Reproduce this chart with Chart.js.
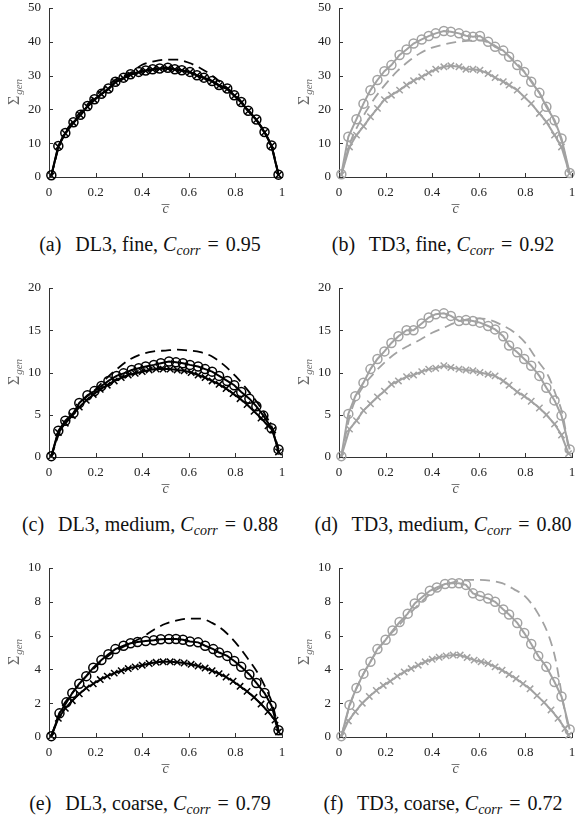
<!DOCTYPE html>
<html>
<head>
<meta charset="utf-8">
<script src="https://cdn.jsdelivr.net/npm/chart.js@4.4.1/dist/chart.umd.min.js"></script>
<style>
  body { margin: 0; width: 576px; height: 821px; overflow: hidden; background: #fff; position: relative; font-family: "Liberation Serif", "Times New Roman", "DejaVu Serif", serif; }
  .panel { position: absolute; width: 288px; height: 225px; }
  .cap { position: absolute; width: 300px; text-align: center; font-size: 20px; line-height: 24px; color: #111; white-space: nowrap; }
  .cap .lab { margin-right: 9px; }
  .cap .eq { margin: 0 2px; }
  .cap sub { font-size: 0.7em; vertical-align: -0.3em; line-height: 0; }
</style>
</head>
<body>

<div class="panel" style="left:0px;top:0px"><canvas id="pa" width="288" height="225"></canvas></div>
<div class="panel" style="left:290px;top:0px"><canvas id="pb" width="288" height="225"></canvas></div>
<div class="panel" style="left:0px;top:280px"><canvas id="pc" width="288" height="225"></canvas></div>
<div class="panel" style="left:290px;top:280px"><canvas id="pd" width="288" height="225"></canvas></div>
<div class="panel" style="left:0px;top:560px"><canvas id="pe" width="288" height="225"></canvas></div>
<div class="panel" style="left:290px;top:560px"><canvas id="pf" width="288" height="225"></canvas></div>

<div class="cap" style="left:0px;top:232px"><span class="lab">(a)</span> DL3, fine, <i>C<sub>corr</sub></i> <span class="eq">=</span> 0.95</div>
<div class="cap" style="left:293px;top:232px"><span class="lab">(b)</span> TD3, fine, <i>C<sub>corr</sub></i> <span class="eq">=</span> 0.92</div>
<div class="cap" style="left:0px;top:512px"><span class="lab">(c)</span> DL3, medium, <i>C<sub>corr</sub></i> <span class="eq">=</span> 0.88</div>
<div class="cap" style="left:293px;top:512px"><span class="lab">(d)</span> TD3, medium, <i>C<sub>corr</sub></i> <span class="eq">=</span> 0.80</div>
<div class="cap" style="left:0px;top:791px"><span class="lab">(e)</span> DL3, coarse, <i>C<sub>corr</sub></i> <span class="eq">=</span> 0.79</div>
<div class="cap" style="left:293px;top:791px"><span class="lab">(f)</span> TD3, coarse, <i>C<sub>corr</sub></i> <span class="eq">=</span> 0.72</div>

<script>
// x grid shared by the dashed reference curves
const dashX = [0.01, 0.05, 0.1, 0.15, 0.2, 0.25, 0.3, 0.35, 0.4, 0.45, 0.5, 0.55, 0.6, 0.65, 0.7, 0.75, 0.8, 0.85, 0.9, 0.93, 0.96, 0.985];

// (a) DL3 fine
const aX = [0.01,0.04,0.07,0.105,0.135,0.165,0.195,0.225,0.255,0.285,0.32,0.35,0.385,0.415,0.445,0.475,0.51,0.54,0.57,0.605,0.635,0.665,0.7,0.73,0.765,0.795,0.825,0.855,0.89,0.925,0.955,0.985];
const aCircY = [0.5,9.2,13,16.2,18.4,21,23,24.6,26.2,28.2,29.4,30.4,31.1,31.5,31.9,32.1,32.3,31.9,31.6,31.1,30.1,29.4,28.4,27.2,26.2,24.2,22.2,19.6,17,13.3,9.3,0.7];
const aCrossY = [0.4,9.0,12.9,16.0,18.3,20.8,22.8,24.5,26.0,28.0,29.2,30.2,31.0,31.4,31.8,32.0,32.1,31.8,31.5,31.0,30.0,29.3,28.3,27.0,26.0,24.0,22.0,19.5,16.9,13.2,9.2,0.6];
const aDashY = [0.5,10.5,16.3,20.3,24,27,29.4,30.8,33.2,34.2,34.7,34.7,33.8,32.2,30.0,27.2,24.2,20.3,16,12.8,8,0.8];

// (b) TD3 fine
const bCircX = [0.01,0.04,0.075,0.105,0.135,0.165,0.195,0.225,0.26,0.29,0.32,0.355,0.385,0.415,0.45,0.48,0.515,0.545,0.575,0.605,0.64,0.67,0.705,0.73,0.765,0.795,0.825,0.86,0.89,0.925,0.955,0.99];
const bCircY = [0.8,11.9,17.1,21.7,25.7,28.7,31.3,33.1,36.1,37.7,39.5,40.7,41.7,42.5,43.2,43.0,42.5,41.8,41.5,41.7,40.0,38.5,37.4,35.6,33.1,31.1,28.2,24.9,20.8,16.8,11.4,1.2];
const bCrossX = [0.01,0.045,0.075,0.105,0.135,0.165,0.195,0.225,0.26,0.29,0.32,0.355,0.385,0.415,0.45,0.48,0.515,0.545,0.575,0.605,0.64,0.67,0.705,0.73,0.765,0.795,0.825,0.86,0.89,0.925,0.955,0.99];
const bCrossY = [0.6,8.9,12.4,15.0,17.8,20.3,22.9,24.2,25.7,27.2,28.5,29.6,30.8,31.9,32.6,32.9,32.6,31.9,31.9,31.6,30.6,29.4,28.2,27.2,25.7,23.7,21.7,18.8,16.3,12.4,8.9,1.0];
const bDashY = [0.8,10.5,17.5,23,27.5,31.3,34.3,36.7,38.3,39.2,39.9,40.3,40.4,39.6,37.4,34.5,30.8,26,20,15.5,9.5,1.5];

// (c) DL3 medium
const cCircX = [0.01,0.04,0.07,0.105,0.13,0.165,0.195,0.225,0.255,0.29,0.32,0.355,0.385,0.415,0.45,0.48,0.515,0.545,0.575,0.605,0.64,0.67,0.7,0.73,0.765,0.795,0.825,0.86,0.89,0.92,0.955,0.985];
const cCircY = [0.1,3.1,4.3,5.2,6.4,7.3,7.8,8.4,9.0,9.6,9.9,10.3,10.5,10.7,10.9,11.1,11.3,11.2,11.1,10.9,10.7,10.4,10.1,9.6,9.0,8.5,7.7,6.9,6.0,4.9,3.4,0.9];
const cCrossX = [0.01,0.04,0.07,0.1,0.13,0.16,0.19,0.22,0.25,0.28,0.31,0.34,0.37,0.4,0.43,0.46,0.49,0.52,0.55,0.58,0.61,0.64,0.67,0.7,0.73,0.76,0.79,0.82,0.85,0.88,0.91,0.94,0.96,0.985];
const cCrossY = [0.1,2.9,4.0,4.9,5.9,6.7,7.4,8.0,8.5,9.0,9.4,9.7,9.9,10.1,10.3,10.4,10.4,10.4,10.3,10.2,10.0,9.7,9.4,9.0,8.6,8.1,7.5,6.9,6.2,5.4,4.6,3.7,3.2,0.6];
const cDashY = [0.1,3.2,5.0,6.8,8.0,9.4,10.6,11.6,12.2,12.5,12.6,12.7,12.6,12.4,11.9,10.9,9.6,8.0,6.2,4.9,3.3,0.9];

// (d) TD3 medium
const dCircX = [0.01,0.04,0.07,0.105,0.135,0.165,0.195,0.225,0.255,0.29,0.32,0.355,0.385,0.415,0.45,0.48,0.515,0.545,0.575,0.605,0.64,0.67,0.705,0.73,0.765,0.795,0.825,0.86,0.89,0.925,0.955,0.99];
const dCircY = [0.1,5.1,7.2,8.8,10.4,11.6,12.5,13.5,14.3,15.0,15.0,15.8,16.5,16.9,17.0,16.7,16.1,16.2,16.1,15.9,15.5,15.1,14.3,13.2,12.4,11.6,10.8,9.6,8.2,6.7,4.9,0.9];
const dCrossX = [0.01,0.045,0.075,0.105,0.135,0.165,0.195,0.225,0.255,0.29,0.32,0.355,0.385,0.415,0.45,0.48,0.515,0.545,0.575,0.605,0.64,0.67,0.705,0.73,0.765,0.795,0.825,0.86,0.89,0.925,0.955,0.985];
const dCrossY = [0.1,3.3,4.3,5.5,6.3,7.1,7.8,8.6,9.0,9.5,9.7,10.1,10.4,10.5,10.8,10.6,10.4,10.3,10.2,10.0,9.8,9.6,9.0,8.5,7.7,7.2,6.6,5.8,5.0,3.9,2.6,0.4];
const dDashY = [0.1,5.2,8.2,9.9,11.3,12.4,13.2,13.9,14.7,15.3,15.9,16.3,16.4,16.2,15.6,14.8,13.5,11.5,9.5,7.4,5.0,1.0];

// (e) DL3 coarse
const eCircX = [0.01,0.045,0.075,0.1,0.13,0.16,0.19,0.225,0.255,0.285,0.32,0.35,0.38,0.415,0.45,0.48,0.515,0.545,0.575,0.605,0.64,0.67,0.705,0.73,0.765,0.795,0.825,0.86,0.89,0.925,0.955,0.985];
const eCircY = [0.05,1.4,2.05,2.6,3.15,3.6,4.1,4.55,4.9,5.2,5.4,5.55,5.62,5.68,5.72,5.78,5.8,5.8,5.75,5.65,5.6,5.4,5.2,5.0,4.8,4.5,4.15,3.7,3.2,2.6,1.85,0.4];
const eCrossX = [0.01,0.04,0.07,0.1,0.13,0.16,0.19,0.22,0.25,0.28,0.31,0.34,0.37,0.4,0.43,0.46,0.49,0.52,0.55,0.58,0.61,0.64,0.67,0.7,0.73,0.76,0.79,0.82,0.85,0.88,0.91,0.94,0.97,0.985];
const eCrossY = [0.05,1.1,1.7,2.15,2.55,2.9,3.15,3.4,3.6,3.78,3.92,4.05,4.15,4.25,4.35,4.42,4.45,4.45,4.43,4.38,4.3,4.2,4.08,3.92,3.75,3.55,3.3,3.0,2.7,2.35,1.95,1.5,1.0,0.3];
const eDashY = [0.05,1.6,2.6,3.45,4.15,4.75,5.2,5.55,5.9,6.35,6.7,6.9,7.0,7.0,6.75,6.3,5.6,4.7,3.7,2.9,1.9,0.4];

// (f) TD3 coarse
const fCircX = [0.01,0.045,0.075,0.105,0.135,0.165,0.2,0.23,0.26,0.295,0.325,0.355,0.39,0.42,0.455,0.485,0.515,0.545,0.575,0.605,0.64,0.67,0.705,0.73,0.765,0.795,0.825,0.855,0.89,0.925,0.955,0.99];
const fCircY = [0.05,1.9,2.9,3.75,4.45,5.2,5.75,6.3,6.8,7.3,7.9,8.25,8.65,8.85,9.05,9.1,9.1,9.0,8.5,8.35,8.2,8.0,7.55,7.25,6.75,6.15,5.5,4.8,4.15,3.25,2.4,0.45];
const fCrossX = [0.01,0.04,0.07,0.1,0.13,0.16,0.19,0.22,0.25,0.28,0.31,0.34,0.37,0.4,0.43,0.46,0.49,0.52,0.55,0.58,0.61,0.64,0.67,0.7,0.73,0.76,0.79,0.82,0.85,0.88,0.91,0.94,0.97,0.985];
const fCrossY = [0.05,0.95,1.5,2.0,2.4,2.75,3.05,3.3,3.6,3.85,4.05,4.25,4.45,4.6,4.72,4.8,4.85,4.85,4.7,4.55,4.45,4.35,4.15,3.95,3.7,3.45,3.15,2.85,2.45,2.05,1.6,1.1,0.5,0.1];
const fDashY = [0.05,2.0,3.6,4.8,5.75,6.5,7.25,7.95,8.55,8.95,9.2,9.3,9.3,9.25,9.1,8.75,8.3,7.4,6.0,4.55,2.2,0.5];

const BLACK = '#000000';
const GREY = '#a2a2a2';
const SERIF = '"Liberation Serif", "Times New Roman", "DejaVu Serif", serif';

function pts(xs, ys) {
  return xs.map((x, i) => ({ x: x, y: ys[i] }));
}

// inward tick marks + axis titles (Sigma_gen, c-bar)
const axisDecor = {
  id: 'axisDecor',
  afterDraw(chart) {
    const ctx = chart.ctx;
    const a = chart.chartArea;
    const sx = chart.scales.x, sy = chart.scales.y;
    ctx.save();
    ctx.strokeStyle = '#333';
    ctx.lineWidth = 1;
    ctx.beginPath();
    sx.ticks.forEach(t => {
      const px = Math.round(sx.getPixelForValue(t.value)) + 0.5;
      ctx.moveTo(px, a.bottom);
      ctx.lineTo(px, a.bottom - 4);
    });
    sy.ticks.forEach(t => {
      const py = Math.round(sy.getPixelForValue(t.value)) + 0.5;
      ctx.moveTo(a.left, py);
      ctx.lineTo(a.left + 4, py);
    });
    ctx.stroke();

    // y title
    ctx.fillStyle = '#6a6a6a';
    ctx.translate(16, (a.top + a.bottom) / 2);
    ctx.rotate(-Math.PI / 2);
    ctx.font = '16px ' + SERIF;
    const w1 = ctx.measureText('\u03A3').width;
    ctx.font = 'italic 11px ' + SERIF;
    const w2 = ctx.measureText('gen').width;
    const x0 = -(w1 + w2) / 2;
    ctx.textBaseline = 'alphabetic';
    ctx.font = '16px ' + SERIF;
    ctx.fillText('\u03A3', x0, 3);
    ctx.font = 'italic 11px ' + SERIF;
    ctx.fillText('gen', x0 + w1 + 1, 6);
    ctx.restore();

    // x title
    ctx.save();
    const cx = (a.left + a.right) / 2;
    ctx.fillStyle = '#555';
    ctx.strokeStyle = '#555';
    ctx.font = 'italic 14px ' + SERIF;
    ctx.textAlign = 'center';
    ctx.fillText('c', cx, 213);
    ctx.beginPath();
    ctx.moveTo(cx - 4, 204.5);
    ctx.lineTo(cx + 4, 204.5);
    ctx.lineWidth = 0.8;
    ctx.stroke();
    ctx.restore();
  }
};

function tickText(v) {
  return String(Math.round(v * 10) / 10);
}

function makePanel(id, col, ymax, ystep, circ, cross, dash) {
  new Chart(document.getElementById(id), {
    type: 'scatter',
    data: {
      datasets: [
        {
          data: circ, showLine: true, borderColor: col, borderWidth: 2,
          pointStyle: 'circle', pointRadius: 4.5, pointBorderWidth: 1.5,
          pointBorderColor: col, pointBackgroundColor: 'rgba(0,0,0,0)', tension: 0
        },
        {
          data: cross, showLine: true, borderColor: col, borderWidth: 2,
          pointStyle: 'crossRot', pointRadius: 4.5, pointBorderWidth: 1.5,
          pointBorderColor: col, pointBackgroundColor: col, tension: 0
        },
        {
          data: dash, showLine: true, borderColor: col, borderWidth: 1.8,
          borderDash: [10, 6], pointRadius: 0, cubicInterpolationMode: 'monotone'
        }
      ]
    },
    options: {
      responsive: false,
      animation: false,
      clip: false,
      layout: { padding: { top: 8, right: 5, left: 0, bottom: 0 } },
      plugins: { legend: { display: false }, tooltip: { enabled: false } },
      scales: {
        x: {
          type: 'linear', min: 0, max: 1,
          afterFit: s => { s.height = 48; s.paddingLeft = 0; s.paddingRight = 0; },
          grid: { drawOnChartArea: false, drawTicks: false },
          border: { display: true, color: '#333', width: 1 },
          ticks: { stepSize: 0.2, padding: 8, color: '#222', font: { family: SERIF, size: 13 }, callback: tickText }
        },
        y: {
          type: 'linear', min: 0, max: ymax,
          afterFit: s => { s.width = 49; s.paddingTop = 0; s.paddingBottom = 0; },
          grid: { drawOnChartArea: false, drawTicks: false },
          border: { display: true, color: '#333', width: 1 },
          ticks: { stepSize: ystep, padding: 8, color: '#222', font: { family: SERIF, size: 13 }, callback: tickText }
        }
      }
    },
    plugins: [axisDecor]
  });
}

makePanel('pa', BLACK, 50, 10, pts(aX, aCircY), pts(aX, aCrossY), pts(dashX, aDashY));
makePanel('pb', GREY, 50, 10, pts(bCircX, bCircY), pts(bCrossX, bCrossY), pts(dashX, bDashY));
makePanel('pc', BLACK, 20, 5, pts(cCircX, cCircY), pts(cCrossX, cCrossY), pts(dashX, cDashY));
makePanel('pd', GREY, 20, 5, pts(dCircX, dCircY), pts(dCrossX, dCrossY), pts(dashX, dDashY));
makePanel('pe', BLACK, 10, 2, pts(eCircX, eCircY), pts(eCrossX, eCrossY), pts(dashX, eDashY));
makePanel('pf', GREY, 10, 2, pts(fCircX, fCircY), pts(fCrossX, fCrossY), pts(dashX, fDashY));
</script>
</body>
</html>
